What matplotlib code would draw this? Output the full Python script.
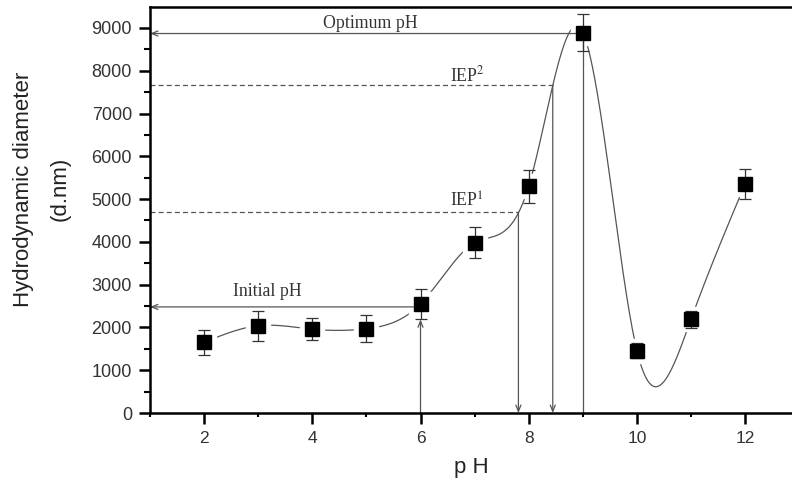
import numpy as np
import matplotlib
matplotlib.use("Agg")
import matplotlib.pyplot as plt
from matplotlib.ticker import MultipleLocator

# ---- data ----
ph = [2, 3, 4, 5, 6, 7, 8, 9, 10, 11, 12]
diameter = [1650, 2040, 1960, 1970, 2550, 3980, 5300, 8890, 1460, 2190, 5350]
err = [300, 350, 260, 320, 360, 360, 380, 440, 180, 200, 350]

initial_ph = 6
initial_val = 2480
iep1_ph, iep1_val = 7.81, 4700
iep2_ph, iep2_val = 8.445, 7660
opt_ph, opt_val = 9, 8870

def natural_spline(x, y, xs):
    x = np.asarray(x, float); y = np.asarray(y, float)
    n = len(x)
    h = np.diff(x)
    A = np.zeros((n, n)); b = np.zeros(n)
    A[0, 0] = 1; A[-1, -1] = 1
    for i in range(1, n - 1):
        A[i, i - 1] = h[i - 1]
        A[i, i] = 2 * (h[i - 1] + h[i])
        A[i, i + 1] = h[i]
        b[i] = 3 * ((y[i + 1] - y[i]) / h[i] - (y[i] - y[i - 1]) / h[i - 1])
    c = np.linalg.solve(A, b)
    out = np.empty_like(xs)
    for k, xv in enumerate(xs):
        i = min(max(np.searchsorted(x, xv) - 1, 0), n - 2)
        dx = xv - x[i]
        bi = (y[i + 1] - y[i]) / h[i] - h[i] * (2 * c[i] + c[i + 1]) / 3
        di = (c[i + 1] - c[i]) / (3 * h[i])
        out[k] = y[i] + bi * dx + c[i] * dx ** 2 + di * dx ** 3
    return out

plt.rcParams['font.family'] = ['Liberation Sans', 'DejaVu Sans']
fig = plt.figure(figsize=(7.92, 4.88), dpi=100)
ax = fig.add_axes([150 / 792, 1 - 413 / 488, 1 - 150 / 792, (413 - 7) / 488])

xs = np.linspace(ph[0], ph[-1], 600)
ys = natural_spline(ph, diameter, xs)
gc = '#555555'
ax.plot(xs, ys, color=gc, lw=0.9, zorder=1)
ax.plot(ph, diameter, 's', ms=17, color='white', zorder=2)

arrow_kw = dict(arrowstyle='->,head_length=0.45,head_width=0.18', color=gc, lw=0.9,
                shrinkA=0, shrinkB=0)
xmin = 1.0
# Optimum pH
ax.annotate('', xy=(xmin, opt_val), xytext=(opt_ph, opt_val), arrowprops=arrow_kw, zorder=2.5)
ax.plot([opt_ph, opt_ph], [0, opt_val], color=gc, lw=0.9, zorder=2.5)
# Initial pH
ax.annotate('', xy=(xmin, initial_val), xytext=(initial_ph, initial_val), arrowprops=arrow_kw, zorder=2.5)
ax.annotate('', xy=(initial_ph, 2190), xytext=(initial_ph, 0), arrowprops=arrow_kw, zorder=2.5)
# IEPs
ax.plot([xmin, iep1_ph], [iep1_val, iep1_val], color=gc, lw=0.9, ls=(0, (4, 2.5)), zorder=2.5)
ax.plot([xmin, iep2_ph], [iep2_val, iep2_val], color=gc, lw=0.9, ls=(0, (4, 2.5)), zorder=2.5)
ax.annotate('', xy=(iep1_ph, 0), xytext=(iep1_ph, iep1_val), arrowprops=arrow_kw, zorder=2.5)
ax.annotate('', xy=(iep2_ph, 0), xytext=(iep2_ph, iep2_val), arrowprops=arrow_kw, zorder=2.5)

ax.errorbar(ph, diameter, yerr=err, fmt='none', ecolor='#333333', elinewidth=0.9,
            capsize=4, capthick=0.9, zorder=3)
ax.plot(ph, diameter, 's', ms=9.5, color='black', zorder=4)

serif = ['Liberation Serif', 'DejaVu Serif']
tc = '#333333'
ax.text(5.07, 9110, 'Optimum pH', family=serif, fontsize=12.8, color=tc, ha='center', va='center')
ax.text(6.86, 7900, 'IEP$^2$', family=serif, fontsize=12.8, color=tc, ha='center', va='center',
        math_fontfamily='stix')
ax.text(6.86, 4940, 'IEP$^1$', family=serif, fontsize=12.8, color=tc, ha='center', va='center',
        math_fontfamily='stix')
ax.text(3.16, 2835, 'Initial pH', family=serif, fontsize=12.8, color=tc, ha='center', va='center')

ax.set_xlim(1, 1 + 642 / 54.1)
ax.set_ylim(0, 9490)
ax.xaxis.set_major_locator(MultipleLocator(2))
ax.xaxis.set_minor_locator(MultipleLocator(1))
ax.yaxis.set_major_locator(MultipleLocator(1000))
ax.yaxis.set_minor_locator(MultipleLocator(500))
ax.spines['right'].set_visible(False)
for s in ['left', 'bottom', 'top']:
    ax.spines[s].set_linewidth(1.8)
ax.tick_params(which='major', direction='out', length=8, width=1.8,
               labelcolor='#333333', pad=5)
ax.tick_params(axis='y', which='major', labelsize=13)
ax.tick_params(axis='x', which='major', labelsize=12.5)
ax.tick_params(which='minor', direction='out', length=4, width=1.5)
ax.tick_params(axis='x', which='minor', length=3)

fig.text(42 / 792, 1 - 189 / 488, 'Hydrodynamic diameter\n(d.nm)', rotation=90, fontsize=16,
         ha='center', va='center', multialignment='center', linespacing=1.95, color='#222222')
fig.text(471 / 792, 1 - 467 / 488, 'p H', fontsize=16, ha='center', va='center', color='#222222')

fig.savefig('out.png', dpi=100)
